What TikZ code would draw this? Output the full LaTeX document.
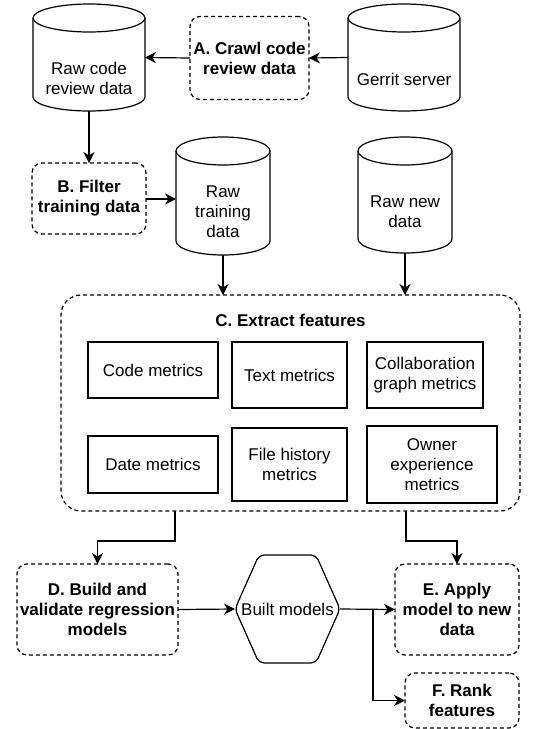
\documentclass[tikz,border=0pt]{standalone}
\usepackage{fontspec}
\setmainfont{Liberation Sans}
\usetikzlibrary{arrows.meta,calc}
\newcommand\fs{\fontsize{17}{20}\selectfont}
\newcommand\drawcyl[2]{%
 \draw[ln] ([yshift=-14pt]#1.north west) -- ([yshift=14pt]#1.south west)
   arc[start angle=180, end angle=360, x radius=#2, y radius=14pt]
   -- ([yshift=-14pt]#1.north east)
   arc[start angle=0, end angle=180, x radius=#2, y radius=14pt];
 \draw[ln] ([yshift=-14pt]#1.north west) arc[start angle=180, end angle=360, x radius=#2, y radius=14pt];
}
\tikzset{
 ln/.style={line width=1.2pt},
 arr/.style={ln, -{Stealth[length=11pt,width=11pt,inset=3.5pt]}},
 stepbox/.style={draw, ln, dash pattern=on 4pt off 3pt, rounded corners=10pt, font=\bfseries\fs, align=center, inner sep=0, outer sep=0},
 metric/.style={draw, ln, align=center, font=\fs, inner sep=0, outer sep=0},
 txt/.style={font=\fs, align=center, inner sep=0},
 ghost/.style={draw=none, inner sep=0, outer sep=0},
}
\begin{document}
\begin{tikzpicture}[x=1pt,y=-1pt]
\useasboundingbox (0,0) rectangle (558,729);
% cylinders
\node[ghost, minimum width=112pt, minimum height=107pt] (rawcode) at (89,57.5) {};
\drawcyl{rawcode}{56pt}
\node[txt] (rawcodet) at (89,78) {Raw code\\review data};
\node[ghost, minimum width=112pt, minimum height=107pt] (gerrit) at (404,57.5) {};
\drawcyl{gerrit}{56pt}
\node[txt] (gerritt) at (404,79) {Gerrit server};
\node[ghost, minimum width=94pt, minimum height=118pt] (rawtrain) at (223,196) {};
\drawcyl{rawtrain}{47pt}
\node[txt] (rawtraint) at (223,212) {Raw\\training\\data};
\node[ghost, minimum width=94pt, minimum height=116pt] (rawnew) at (405,195) {};
\drawcyl{rawnew}{47pt}
\node[txt] (rawnewt) at (405,212) {Raw new\\data};
% step boxes
\node[stepbox, minimum width=119pt, minimum height=83pt] (A) at (249.5,58) {A. Crawl code\\review data};
\node[stepbox, minimum width=114pt, minimum height=71pt] (B) at (89,198.5) {B. Filter\\training data};
\node[stepbox, rounded corners=20pt, minimum width=459pt, minimum height=216pt] (C) at (290.5,403) {};
\node[txt, font=\bfseries\fs] (Ct) at (290.5,320) {C. Extract features};
\node[metric, minimum width=130pt, minimum height=56pt] (code) at (153,370) {Code metrics};
\node[metric, minimum width=115pt, minimum height=66pt] (textm) at (289.5,375) {Text metrics};
\node[metric, minimum width=116pt, minimum height=66pt] (collab) at (425,375) {Collaboration\\graph metrics};
\node[metric, minimum width=130pt, minimum height=57pt] (date) at (153,464.5) {Date metrics};
\node[metric, minimum width=115pt, minimum height=73pt] (filehist) at (289.5,464.5) {File history\\metrics};
\node[metric, minimum width=130pt, minimum height=77pt] (owner) at (432,464.5) {Owner\\experience\\metrics};
\node[stepbox, minimum width=161pt, minimum height=91pt] (D) at (97.5,609.5) {D. Build and\\validate regression\\models};
\node[ghost, minimum width=105pt, minimum height=108pt] (hex) at (287.5,609) {};
\draw[ln, rounded corners=5pt] (hex.north) -- ([xshift=-24pt]hex.north east) -- (hex.east) -- ([xshift=-24pt]hex.south east) -- ([xshift=24pt]hex.south west) -- (hex.west) -- ([xshift=24pt]hex.north west) -- (hex.north);
\node[txt] (hext) at (287.5,609) {Built models};
\node[stepbox, minimum width=124pt, minimum height=91pt] (E) at (457,609.5) {E. Apply\\model to new\\data};
\node[stepbox, minimum width=114pt, minimum height=55pt] (F) at (462,700.5) {F. Rank\\features};
% connectors
\draw[arr] (gerrit.west) -- (A.east);
\draw[arr] (A.west) -- (rawcode.east);
\draw[arr] (rawcode.south) -- (B.north);
\coordinate (bout) at (146,199);
\draw[arr] (bout) -- (bout -| rawtrain.west);
\draw[arr] (rawtrain.south) -- (rawtrain.south |- C.north);
\draw[arr] (rawnew.south) -- (rawnew.south |- C.north);
\coordinate (c1) at (175,511);
\coordinate (c2) at (406,511);
\draw[arr] (c1) -- ++(0,-30pt) -| (D.north);
\draw[arr] (c2) -- ++(0,-30pt) -| (E.north);
\draw[arr] (D.east) -- (hex.west);
\draw[arr] (hex.east) -- (E.west);
\coordinate (br) at (373,609);
\draw[arr] (br) |- (F.west);
\end{tikzpicture}
\end{document}
